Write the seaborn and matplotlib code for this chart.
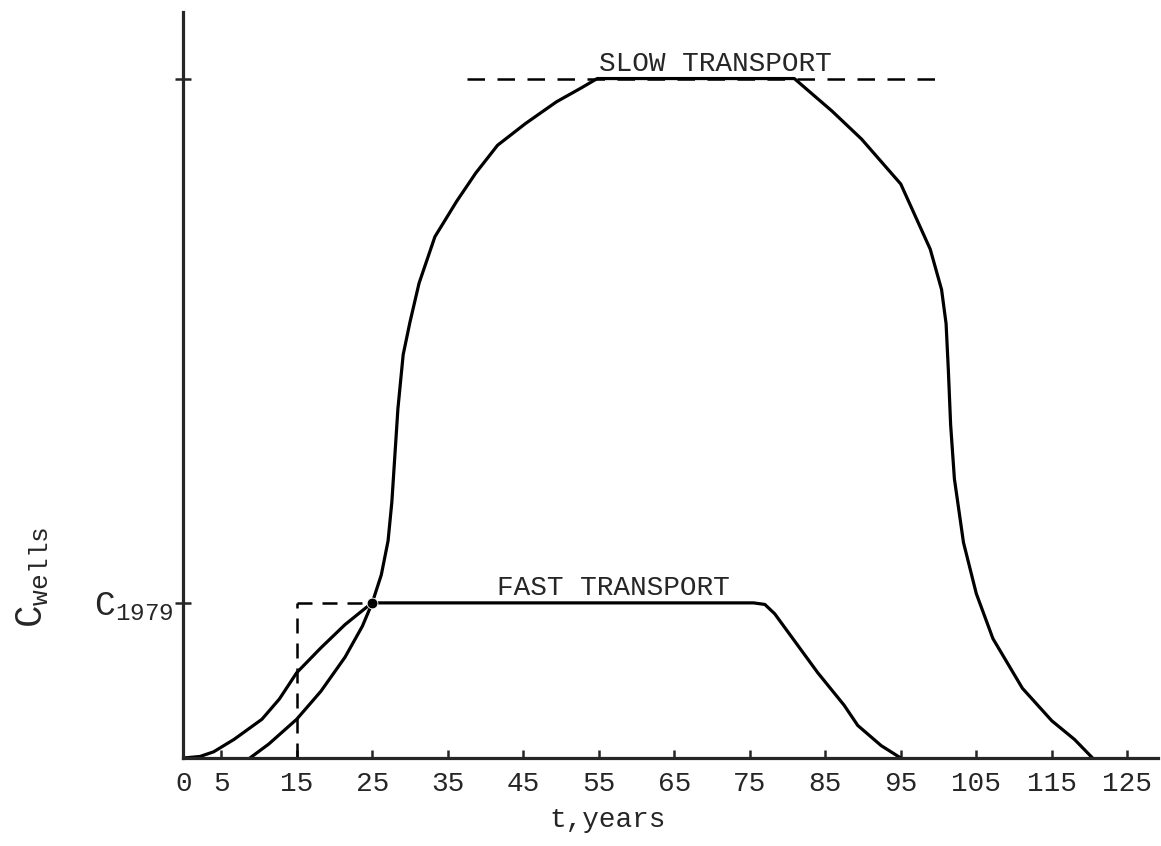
import matplotlib

matplotlib.use("Agg")
import matplotlib.pyplot as plt
import pandas as pd
import seaborn as sns

# %% Data (C in units of C1979)
c_1979 = 1.0
c_slow_max = 4.38

fast_t = [0, 2.2, 4, 6.7, 10.4, 12.7, 15, 18.2, 21.4, 24.2, 25,
          75.5, 77, 78.3, 81.3, 84, 87.5, 89.3, 92.4, 95]
fast_c = [0, 0.01, 0.04, 0.12, 0.25, 0.38, 0.55, 0.71, 0.86, 0.97, 1.0,
          1.0, 0.99, 0.93, 0.73, 0.55, 0.34, 0.21, 0.08, 0]

slow_t = [8.8, 11.3, 15, 18.2, 21.4, 23.7, 25, 26.2, 27.1, 27.6, 28.0, 28.4,
          29.1, 30.0, 31.2, 33.3, 36.2, 38.7, 41.6, 45.3, 49.4, 52.7, 54.8,
          80.9, 85.9, 89.8, 95, 98.9, 100.4, 101.0, 101.3, 101.6, 102.1, 103.3,
          105, 107.2, 111.1, 115, 118, 120.4]
slow_c = [0, 0.09, 0.25, 0.43, 0.65, 0.85, 1.0, 1.18, 1.40, 1.65, 1.95, 2.25,
          2.60, 2.81, 3.06, 3.36, 3.59, 3.77, 3.95, 4.09, 4.23, 4.32, 4.38,
          4.38, 4.17, 3.99, 3.70, 3.28, 3.02, 2.80, 2.50, 2.15, 1.80, 1.39,
          1.06, 0.77, 0.45, 0.24, 0.12, 0]

xticks = [0, 5, 15, 25, 35, 45, 55, 65, 75, 85, 95, 105, 115, 125]

fast = pd.DataFrame({"t": fast_t, "c": fast_c})
slow = pd.DataFrame({"t": slow_t, "c": slow_c})

# %% Plot
sns.set_style("ticks")
plt.rcParams["font.family"] = ["Liberation Mono", "DejaVu Sans"]
plt.rcParams["mathtext.fontset"] = "custom"
plt.rcParams["mathtext.rm"] = "Liberation Mono"
plt.rcParams["mathtext.it"] = "Liberation Mono"

fig = plt.figure(figsize=(11.61, 8.46), dpi=100)
ax = fig.add_axes([0.158, 0.104, 0.839, 0.882])

sns.lineplot(data=slow, x="t", y="c", sort=False, color="black", lw=2.3, ax=ax)
sns.lineplot(data=fast, x="t", y="c", sort=False, color="black", lw=2.3, ax=ax)
sns.scatterplot(x=[25], y=[c_1979], color="black", s=60, ax=ax, zorder=5)

# guide lines
ax.plot([15, 15], [0, c_1979], "k--", lw=1.8, dashes=(6, 4))
ax.plot([15, 25], [c_1979, c_1979], "k--", lw=1.8, dashes=(6, 4))
ax.plot([37.5, 101], [c_slow_max, c_slow_max], "k--", lw=1.8, dashes=(7, 5))

ax.text(70.5, c_slow_max + 0.01, "SLOW TRANSPORT", ha="center", va="bottom", fontsize=20)
ax.text(57, c_1979 + 0.01, "FAST TRANSPORT", ha="center", va="bottom", fontsize=20)

ax.set_xlim(0, 129)
ax.set_ylim(0, 4.81)
ax.set_xticks(xticks)
ax.set_xticklabels([str(v) for v in xticks], fontsize=20)
ax.set_yticks([c_1979, c_slow_max])
ax.set_yticklabels([r"C$_{1979}$", ""], fontsize=25)
ax.tick_params(axis="x", direction="in", length=6, width=1.8, pad=9)
ax.tick_params(axis="y", direction="inout", length=12, width=1.8, pad=1)
ax.set_xlabel("")
ax.set_ylabel("")
sns.despine(ax=ax)
for s in ["left", "bottom"]:
    ax.spines[s].set_linewidth(2.3)

fig.text(608 / 1161, 1 - 820 / 846, "t,years", ha="center", va="center", fontsize=20)
fig.text(33 / 1161, 1 - 577 / 846, r"C$_{\rm wells}$", ha="center", va="center",
         rotation=90, fontsize=27)

plt.savefig("out.png", dpi=100)
plt.close()
